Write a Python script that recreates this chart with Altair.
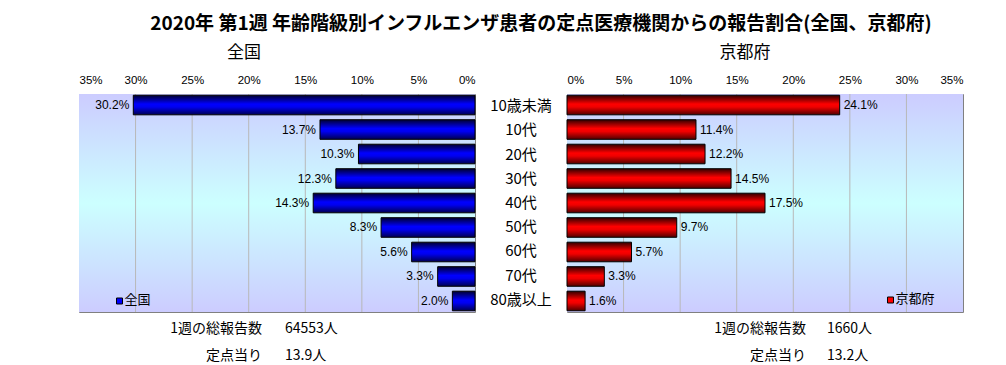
import altair as alt
import pandas as pd

# ---- data ----
ages = ["10歳未満", "10代", "20代", "30代", "40代", "50代", "60代", "70代", "80歳以上"]
national = [30.2, 13.7, 10.3, 12.3, 14.3, 8.3, 5.6, 3.3, 2.0]
kyoto = [24.1, 11.4, 12.2, 14.5, 17.5, 9.7, 5.7, 3.3, 1.6]
tick_values = [0, 5, 10, 15, 20, 25, 30, 35]
grid_values = [5, 10, 15, 20, 25, 30]
main_title = "2020年 第1週 年齢階級別インフルエンザ患者の定点医療機関からの報告割合(全国、京都府)"
panel_titles = ["全国", "京都府"]
stat_labels = ["1週の総報告数", "定点当り"]
national_stats = ["64553人", "13.9人"]
kyoto_stats = ["1660人", "13.2人"]

W, H, MID = 396, 218, 92
JP = "Noto Sans CJK JP"
NUM = "Liberation Sans"


def vgrad(stops):
    return alt.Gradient(
        gradient="linear",
        stops=[alt.GradientStop(color=c, offset=o) for o, c in stops],
        x1=0, x2=0, y1=0, y2=1,
    )


bg_grad = vgrad([(0, "#ccccff"), (0.5, "#ccffff"), (1, "#ccccff")])
blue_grad = vgrad([(0, "#000030"), (0.45, "#0000ff"), (0.6, "#0000f0"), (1, "#000050")])
red_grad = vgrad([(0, "#300000"), (0.45, "#ff0000"), (0.6, "#f00000"), (1, "#500000")])

yenc = alt.Y("age:N", sort=ages, scale=alt.Scale(paddingInner=0.2, paddingOuter=0.05), axis=None)


def panel(values, reverse, grad, color, name, stats, title_x, legend_x, legend_y,
          label_end, value_start):
    df = pd.DataFrame({"age": ages, "pct": values,
                       "label": [f"{v:.1f}%" for v in values]})
    xscale = alt.Scale(domain=[0, 35], reverse=reverse, nice=False, zero=True)
    xaxis = alt.Axis(orient="top", values=tick_values, labelExpr="datum.value + '%'",
                     grid=False, ticks=False, domain=False, labelFont=NUM,
                     labelFontSize=11.5, labelColor="black", labelPadding=9, title=None)
    one = alt.Data(values=[{}])

    background = alt.Chart(one).mark_rect(fill=bg_grad).encode(
        x=alt.value(0), x2=alt.value(W), y=alt.value(0), y2=alt.value(H))
    grid = alt.Chart(pd.DataFrame({"v": grid_values})).mark_rule(
        color="#b8b8b8", strokeWidth=1).encode(
        x=alt.X("v:Q", scale=xscale, axis=xaxis))
    bars = alt.Chart(df).mark_bar(fill=grad, stroke="black", strokeWidth=1).encode(
        x=alt.X("pct:Q", scale=xscale, axis=xaxis), y=yenc)
    labels = alt.Chart(df).mark_text(
        align="right" if reverse else "left", dx=-4 if reverse else 4,
        baseline="middle", font=NUM, fontSize=12, color="black").encode(
        x=alt.X("pct:Q", scale=xscale, axis=xaxis), y=yenc, text="label:N")
    ptitle = alt.Chart(one).mark_text(font=JP, fontSize=17, color="black",
                                      baseline="middle").encode(
        x=alt.value(title_x), y=alt.value(-41), text=alt.value(name))
    lsq = alt.Chart(one).mark_square(size=36, fill=color, stroke="black",
                                     strokeWidth=1, opacity=1).encode(
        x=alt.value(legend_x), y=alt.value(legend_y))
    ltxt = alt.Chart(one).mark_text(font=JP, fontSize=13, align="left",
                                    baseline="middle", color="black").encode(
        x=alt.value(legend_x + 5), y=alt.value(legend_y - 1), text=alt.value(name))
    layers = [background, grid, bars, labels, ptitle, lsq, ltxt]
    for i, (lab, val) in enumerate(zip(stat_labels, stats)):
        yy = 235 + 27 * i
        layers.append(alt.Chart(one).mark_text(font=JP, fontSize=14, align="right",
                                               baseline="middle", color="black").encode(
            x=alt.value(label_end), y=alt.value(yy), text=alt.value(lab)))
        layers.append(alt.Chart(one).mark_text(font=JP, fontSize=14, align="left",
                                               baseline="middle", color="black").encode(
            x=alt.value(value_start), y=alt.value(yy), text=alt.value(val)))
    return alt.layer(*layers).properties(
        width=W, height=H, view=alt.ViewBackground(stroke="#808080", strokeWidth=1))


left = panel(national, True, blue_grad, "#0000ff", panel_titles[0], national_stats,
             165, 40.5, 207, 183, 206)
right = panel(kyoto, False, red_grad, "#ff0000", panel_titles[1], kyoto_stats,
              178, 323.5, 206, 239, 260)

mid = alt.Chart(pd.DataFrame({"age": ages})).mark_text(
    font=JP, fontSize=15, color="black", baseline="middle").encode(
    y=yenc, x=alt.value(MID / 2), text="age:N").properties(
    width=MID, height=H, view=alt.ViewBackground(stroke="transparent"))

chart = alt.hconcat(left, mid, right, spacing=0, bounds="flush").properties(
    title=alt.TitleParams(main_title, font=JP, fontSize=19, fontWeight="bold",
                          color="black", anchor="middle", dx=20, offset=10,
                          limit=2000),
    padding={"left": 70, "top": 6, "right": 0, "bottom": 0},
    background="white",
)

chart.save("out.html", embed_options={"renderer": "svg", "actions": False})
